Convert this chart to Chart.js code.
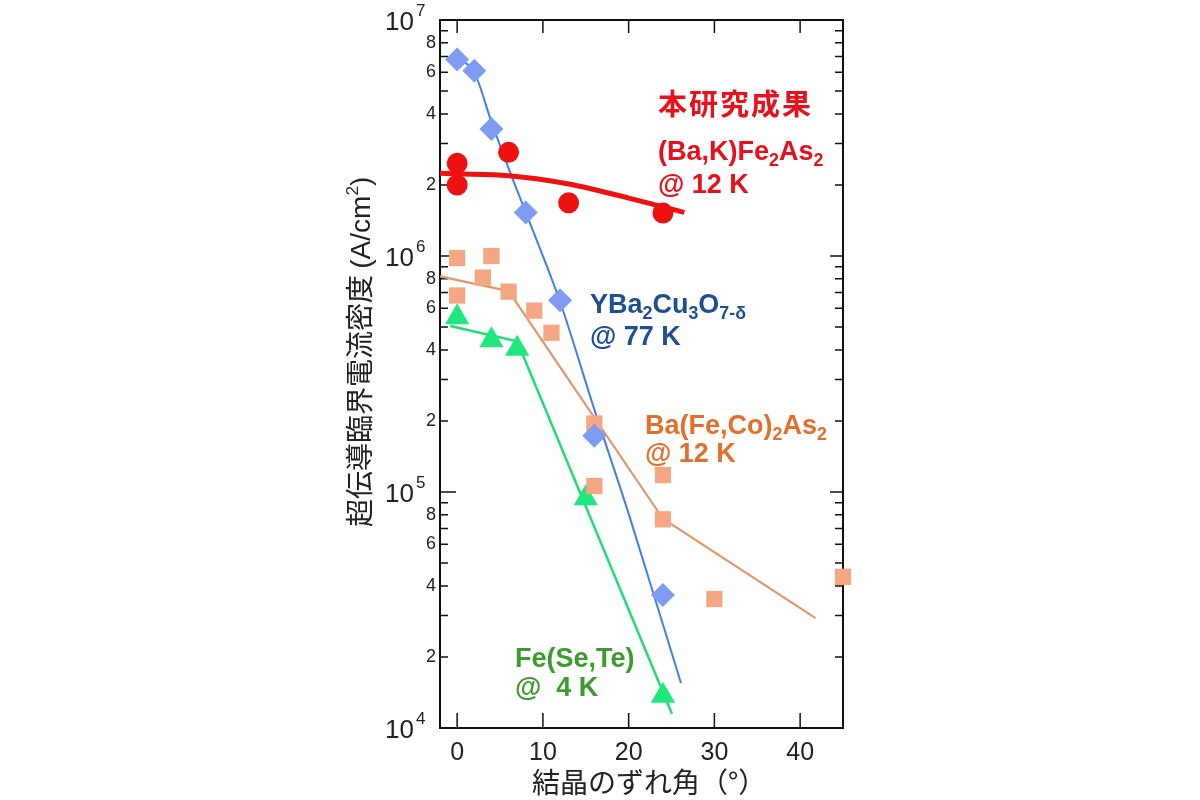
<!DOCTYPE html>
<html>
<head>
<meta charset="utf-8">
<script src="https://cdn.jsdelivr.net/npm/chart.js@4.4.0/dist/chart.umd.min.js"></script>
<style>
    html, body { margin: 0; background: #fff; }
</style>
</head>
<body>
<canvas id="grafico" width="1200" height="800"></canvas>
<script>
// Ángulo de desorientación del cristal (°) y Jc (A/cm2) de cada material
const anguloYBCO = [0, 2, 4, 8, 12, 16, 24];
const jcYBCO = [6.8e6, 6.1e6, 3.45e6, 1.53e6, 6.5e5, 1.73e5, 3.66e4];
const anguloAjusteYBCO = [0, 2, 4, 6, 8, 12, 16, 20, 26.1];
const jcAjusteYBCO = [6.9e6, 6.0e6, 3.7e6, 2.35e6, 1.53e6, 6.4e5, 2.24e5, 8.1e4, 1.55e4];

const anguloBaK = [0, 0, 6, 13, 24];
const jcBaK = [2.47e6, 2.0e6, 2.75e6, 1.68e6, 1.52e6];
const anguloAjusteBaK = [-2, 0, 6, 13, 20, 26.5];
const jcAjusteBaK = [2.24e6, 2.23e6, 2.19e6, 2.02e6, 1.76e6, 1.53e6];

const anguloBaCo = [0, 4, 3, 0, 6, 9, 11, 16, 16, 24, 24, 30, 45];
const jcBaCo = [9.8e5, 1.0e6, 8.1e5, 6.8e5, 7.06e5, 5.87e5, 4.73e5, 1.95e5, 1.06e5, 1.18e5, 7.66e4, 3.52e4, 4.37e4];
const anguloAjusteBaCo = [-2, 6, 24, 41.8];
const jcAjusteBaCo = [8.2e5, 7.1e5, 7.7e4, 2.92e4];

const anguloFeSeTe = [0, 4, 7, 15, 24];
const jcFeSeTe = [5.5e5, 4.4e5, 4.05e5, 9.4e4, 1.37e4];
const anguloAjusteFeSeTe = [-0.8, 7, 25.05];
const jcAjusteFeSeTe = [5.05e5, 4.35e5, 1.15e4];

// Ejes
const ticksX = [0, 10, 20, 30, 40];
const decadasY = [4, 5, 6, 7];
const mantisasY = [1, 2, 3, 4, 5, 6, 7, 8, 9];
const mantisasConEtiqueta = [2, 4, 6, 8];

const latin = '"Liberation Sans", Arial, sans-serif';
const cjk = '"Noto Sans CJK JP", sans-serif';

function puntos(xs, ys) {
    return xs.map((x, i) => ({ x: x, y: ys[i] }));
}
function mantisa(v) {
    const e = Math.floor(Math.log10(v) + 1e-9);
    return Math.round(v / Math.pow(10, e));
}

// Textos con subíndices / superíndices
function textoRico(ctx, partes, x, y, size, familia, peso, color) {
    let cx = x;
    ctx.fillStyle = color;
    ctx.textAlign = 'left';
    ctx.textBaseline = 'alphabetic';
    partes.forEach(p => {
        let s = size, dy = 0;
        if (p[1] === 'sub') { s = size * 0.66; dy = size * 0.24; }
        if (p[1] === 'sup') { s = size * 0.62; dy = -size * 0.42; }
        ctx.font = peso + ' ' + s + 'px ' + (p[2] || familia);
        ctx.fillText(p[0], cx, y + dy);
        cx += ctx.measureText(p[0]).width;
    });
}

const anotaciones = [
    { partes: [['(Ba,K)Fe'], ['2', 'sub'], ['As'], ['2', 'sub']], x: 658, y: 160, color: '#e8101a' },
    { partes: [['@ 12 K']], x: 658, y: 193, color: '#e8101a' },
    { partes: [['YBa'], ['2', 'sub'], ['Cu'], ['3', 'sub'], ['O'], ['7-δ', 'sub']], x: 590, y: 313, color: '#1d4f91' },
    { partes: [['@ 77 K']], x: 590, y: 345, color: '#1d4f91' },
    { partes: [['Ba(Fe,Co)'], ['2', 'sub'], ['As'], ['2', 'sub']], x: 645, y: 434, color: '#e2702c' },
    { partes: [['@ 12 K']], x: 645, y: 462, color: '#e2702c' },
    { partes: [['Fe(Se,Te)']], x: 515, y: 667, color: '#3c9a2e' },
    { partes: [['@  4 K']], x: 515, y: 696, color: '#3c9a2e' }
];

const pluginEjes = {
    id: 'ejes',
    beforeDatasetsDraw(chart) {
        const { ctx, chartArea: a, scales: { x, y } } = chart;
        ctx.save();
        ctx.strokeStyle = '#111';
        ctx.lineWidth = 2;
        ctx.strokeRect(a.left, a.top, a.right - a.left, a.bottom - a.top);
        ctx.lineWidth = 1.5;
        ctx.beginPath();
        ticksX.forEach(v => {
            const px = x.getPixelForValue(v);
            ctx.moveTo(px, a.bottom); ctx.lineTo(px, a.bottom - 15);
            ctx.moveTo(px, a.top); ctx.lineTo(px, a.top + 13);
        });
        y.ticks.forEach(t => {
            const py = y.getPixelForValue(t.value);
            const mayor = mantisa(t.value) === 1;
            ctx.moveTo(a.left, py); ctx.lineTo(a.left + (mayor ? 16 : 8), py);
            ctx.moveTo(a.right, py); ctx.lineTo(a.right - (mayor ? 13 : 8), py);
        });
        ctx.stroke();
        ctx.restore();
    },
    afterDraw(chart) {
        const { ctx, scales: { y } } = chart;
        ctx.save();
        // Etiquetas de décadas 10^n
        decadasY.forEach(e => {
            const py = y.getPixelForValue(Math.pow(10, e));
            ctx.fillStyle = '#222';
            ctx.textBaseline = 'middle';
            ctx.textAlign = 'right';
            ctx.font = '26px ' + latin;
            ctx.fillText('10', 414, py + 3);
            ctx.textAlign = 'left';
            ctx.font = '17px ' + latin;
            ctx.fillText(String(e), 416, py - 9);
        });
        // Título eje Y (vertical)
        ctx.save();
        ctx.translate(360, 527);
        ctx.rotate(-Math.PI / 2);
        textoRico(ctx, [['超伝導臨界電流密度 ', '', cjk], ['(A/cm'], ['2', 'sup'], [')']], 0, 10, 28, latin, 'normal', '#222');
        ctx.restore();
        // Título eje X
        textoRico(ctx, [['結晶のずれ角（°）', '', cjk]], 532, 793, 28, cjk, 'normal', '#222');
        // Rótulos de cada material
        ctx.letterSpacing = '2px';
        textoRico(ctx, [['本研究成果']], 658, 115, 29, cjk, 'bold', '#e8101a');
        ctx.letterSpacing = '0px';
        anotaciones.forEach(an => {
            textoRico(ctx, an.partes, an.x, an.y, 27, latin, 'bold', an.color);
        });
        ctx.restore();
    }
};

const migrafico = document.getElementById('grafico');

const datos = {
    datasets: [
        {
            label: '(Ba,K)Fe2As2',
            data: puntos(anguloBaK, jcBaK),
            pointStyle: 'circle', pointRadius: 10.5,
            backgroundColor: '#ee1111', borderWidth: 0
        },
        {
            label: 'YBa2Cu3O7',
            data: puntos(anguloYBCO, jcYBCO),
            pointStyle: 'rectRot', pointRadius: 12,
            backgroundColor: '#7f9cf2', borderWidth: 0
        },
        {
            label: 'Ba(Fe,Co)2As2',
            data: puntos(anguloBaCo, jcBaCo),
            pointStyle: 'rect', pointRadius: 11.5,
            backgroundColor: '#f5a682', borderWidth: 0,
            clip: false
        },
        {
            label: 'Fe(Se,Te)',
            data: puntos(anguloFeSeTe, jcFeSeTe),
            pointStyle: 'triangle', pointRadius: 14,
            backgroundColor: '#1ee87e', borderWidth: 0
        },
        {
            label: 'ajuste BaK',
            data: puntos(anguloAjusteBaK, jcAjusteBaK),
            showLine: true, pointRadius: 0,
            borderColor: '#ee1111', borderWidth: 5,
            cubicInterpolationMode: 'monotone'
        },
        {
            label: 'ajuste YBCO',
            data: puntos(anguloAjusteYBCO, jcAjusteYBCO),
            showLine: true, pointRadius: 0,
            borderColor: '#3f7fe6', borderWidth: 2,
            cubicInterpolationMode: 'monotone'
        },
        {
            label: 'ajuste BaCo',
            data: puntos(anguloAjusteBaCo, jcAjusteBaCo),
            showLine: true, pointRadius: 0,
            borderColor: '#e0986e', borderWidth: 2.2,
            tension: 0
        },
        {
            label: 'ajuste FeSeTe',
            data: puntos(anguloAjusteFeSeTe, jcAjusteFeSeTe),
            showLine: true, pointRadius: 0,
            borderColor: '#22dc78', borderWidth: 2.5,
            tension: 0
        }
    ]
};

const config = {
    type: 'scatter',
    data: datos,
    options: {
        responsive: false,
        animation: false,
        layout: { padding: { left: 0, top: 20, right: 357, bottom: 0 } },
        plugins: {
            legend: { display: false },
            tooltip: { enabled: false }
        },
        scales: {
            x: {
                type: 'linear',
                min: -2,
                max: 45,
                afterFit: s => { s.height = 72; },
                afterBuildTicks: s => { s.ticks = ticksX.map(v => ({ value: v })); },
                grid: { display: false, drawTicks: false },
                border: { display: false },
                ticks: {
                    autoSkip: false,
                    maxRotation: 0,
                    padding: 10,
                    color: '#222',
                    font: { family: latin, size: 25 },
                    callback: v => String(v)
                }
            },
            y: {
                type: 'logarithmic',
                min: 1e4,
                max: 1e7,
                afterFit: s => { s.width = 440; },
                afterBuildTicks: s => {
                    const lista = [];
                    decadasY.forEach(e => {
                        if (e === 7) { lista.push({ value: 1e7 }); return; }
                        mantisasY.forEach(m => lista.push({ value: m * Math.pow(10, e) }));
                    });
                    s.ticks = lista;
                },
                grid: { display: false, drawTicks: false },
                border: { display: false },
                ticks: {
                    autoSkip: false,
                    padding: 4,
                    color: '#222',
                    font: { family: latin, size: 18 },
                    callback: v => mantisasConEtiqueta.includes(mantisa(v)) ? String(mantisa(v)) : ''
                }
            }
        }
    },
    plugins: [pluginEjes]
};
const graficoActual = new Chart(migrafico, config);
</script>
</body>
</html>
